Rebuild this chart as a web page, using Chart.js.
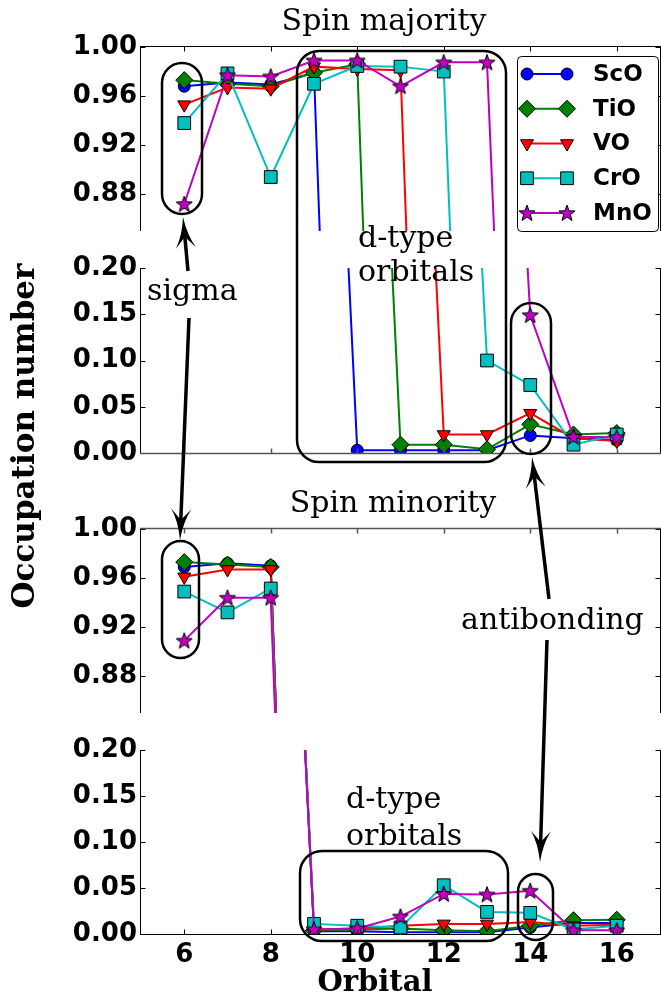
<!DOCTYPE html>
<html><head><meta charset="utf-8">
<script src="https://cdn.jsdelivr.net/npm/chart.js@4.4.0/dist/chart.umd.min.js"></script>
<style>
html,body{margin:0;padding:0;background:#fff;overflow:hidden;width:661px;height:996px;}
canvas{position:absolute;left:0;}
</style></head><body>
<canvas id="c1" width="670" height="220" style="top:30px"></canvas>
<canvas id="c2" width="670" height="216" style="top:252px"></canvas>
<canvas id="c3" width="670" height="214" style="top:515px"></canvas>
<canvas id="c4" width="670" height="265" style="top:731px"></canvas>
<canvas id="ov" width="661" height="996" style="top:0;z-index:10;pointer-events:none"></canvas>
<script>
// ---------------- DATA ----------------
const orbitals = [6, 7, 8, 9, 10, 11, 12, 13, 14, 15, 16];
const seriesNames = ['ScO', 'TiO', 'VO', 'CrO', 'MnO'];

// Spin majority occupation numbers
const majScO = [0.968, 0.971, 0.9695, 0.979, 0.003, 0.003, 0.003, 0.003, 0.019, 0.016, 0.014];
const majTiO = [0.973, 0.970, 0.968, 0.979, 0.986, 0.009, 0.009, 0.004, 0.031, 0.020, 0.0215];
const majVO  = [0.953, 0.967, 0.966, 0.984, 0.982, 0.981, 0.020, 0.020, 0.043, 0.016, 0.013];
const majCrO = [0.938, 0.9785, 0.894, 0.970, 0.9845, 0.984, 0.980, 0.100, 0.0735, 0.009, 0.020];
const majMnO = [0.872, 0.977, 0.976, 0.989, 0.989, 0.968, 0.9875, 0.9875, 0.149, 0.0175, 0.017];

// Spin minority occupation numbers
const minScO = [0.969, 0.972, 0.970, 0.003, 0.003, 0.002, 0.002, 0.002, 0.007, 0.012, 0.012];
const minTiO = [0.973, 0.971, 0.969, 0.004, 0.005, 0.006, 0.004, 0.003, 0.009, 0.015, 0.0155];
const minVO  = [0.961, 0.967, 0.967, 0.005, 0.006, 0.009, 0.011, 0.011, 0.013, 0.009, 0.010];
const minCrO = [0.949, 0.932, 0.9515, 0.011, 0.009, 0.007, 0.053, 0.024, 0.023, 0.005, 0.009];
const minMnO = [0.909, 0.944, 0.944, 0.005, 0.006, 0.019, 0.0435, 0.043, 0.047, 0.004, 0.004];

// Tick values / labels
const xTickValues = [6, 8, 10, 12, 14, 16];
const xTickLabels = ['6', '8', '10', '12', '14', '16'];
const yHighTickValues = [0.88, 0.92, 0.96, 1.00];
const yHighTickLabels = ['0.88', '0.92', '0.96', '1.00'];
const yLowTickValues = [0.00, 0.05, 0.10, 0.15, 0.20];
const yLowTickLabels = ['0.00', '0.05', '0.10', '0.15', '0.20'];

// ---------------- STYLE ----------------
const colors = ['#0000ff', '#008000', '#ff0000', '#00bfbf', '#bf00bf'];
function makeStar(fill) {
  const c = document.createElement('canvas');
  c.width = 20; c.height = 20;
  const g = c.getContext('2d');
  g.beginPath();
  for (let i = 0; i < 10; i++) {
    const r = i % 2 ? 3.5 : 8.5;
    const a = -Math.PI / 2 + i * Math.PI / 5;
    g.lineTo(10 + r * Math.cos(a), 10.6 + r * Math.sin(a));
  }
  g.closePath();
  g.fillStyle = fill; g.fill();
  g.lineWidth = 1; g.strokeStyle = '#000'; g.stroke();
  return c;
}
const starImg = makeStar(colors[4]);
const pStyles = ['circle', 'rectRot', 'triangle', 'rect', starImg];
const pRadii = [6, 8.5, 7.5, 9, 8];
const pRot = [0, 0, 180, 0, 0];

Chart.defaults.font.family = 'DejaVu Sans';
Chart.defaults.color = '#000';

function makeDatasets(arrs) {
  return seriesNames.map((n, i) => ({
    label: n,
    data: orbitals.map((x, j) => ({ x: x, y: arrs[i][j] })),
    borderColor: colors[i],
    backgroundColor: colors[i],
    pointBackgroundColor: colors[i],
    pointBorderColor: '#000',
    pointBorderWidth: 1,
    borderWidth: 2,
    pointStyle: pStyles[i],
    pointRadius: pRadii[i],
    pointRotation: pRot[i],
    tension: 0,
    order: 5 - i,
    clip: 0
  }));
}

const panels = [
  { id: 'c1', top: 30, padTop: 17, padBottom: 19, min: 0.85, max: 1.0, tv: yHighTickValues, tl: yHighTickLabels,
    data: [majScO, majTiO, majVO, majCrO, majMnO], topSpine: '#000', bottomSpine: null, showX: false, legend: true },
  { id: 'c2', top: 252, padTop: 16, padBottom: 15, min: 0.0, max: 0.2, tv: yLowTickValues, tl: yLowTickLabels,
    data: [majScO, majTiO, majVO, majCrO, majMnO], topSpine: null, bottomSpine: '#555', showX: false },
  { id: 'c3', top: 515, padTop: 14, padBottom: 16, min: 0.85, max: 1.0, tv: yHighTickValues, tl: yHighTickLabels,
    data: [minScO, minTiO, minVO, minCrO, minMnO], topSpine: '#555', bottomSpine: null, showX: false },
  { id: 'c4', top: 731, padTop: 19, padBottom: 0, xHeight: 62, min: 0.0, max: 0.2, tv: yLowTickValues, tl: yLowTickLabels,
    data: [minScO, minTiO, minVO, minCrO, minMnO], topSpine: null, bottomSpine: '#000', showX: true }
];

function drawMarker(ctx, i, x, y) {
  const r = pRadii[i];
  ctx.save();
  ctx.fillStyle = colors[i]; ctx.strokeStyle = '#000'; ctx.lineWidth = 1;
  ctx.beginPath();
  if (i === 0) { ctx.arc(x, y, r, 0, Math.PI * 2); }
  else if (i === 1) { ctx.moveTo(x - r, y); ctx.lineTo(x, y - r); ctx.lineTo(x + r, y); ctx.lineTo(x, y + r); ctx.closePath(); }
  else if (i === 2) { ctx.moveTo(x, y + r); ctx.lineTo(x - r * 0.866, y - r * 0.5); ctx.lineTo(x + r * 0.866, y - r * 0.5); ctx.closePath(); }
  else if (i === 3) { const s = r * Math.SQRT1_2; ctx.rect(x - s, y - s, 2 * s, 2 * s); }
  else { ctx.drawImage(starImg, x - 10, y - 10); ctx.restore(); return; }
  ctx.fill(); ctx.stroke();
  ctx.restore();
}

function rrect(ctx, x, y, w, h, r) {
  r = Math.min(r, w / 2, h / 2);
  ctx.beginPath();
  ctx.moveTo(x + r, y);
  ctx.lineTo(x + w - r, y); ctx.arcTo(x + w, y, x + w, y + r, r);
  ctx.lineTo(x + w, y + h - r); ctx.arcTo(x + w, y + h, x + w - r, y + h, r);
  ctx.lineTo(x + r, y + h); ctx.arcTo(x, y + h, x, y + h - r, r);
  ctx.lineTo(x, y + r); ctx.arcTo(x, y, x + r, y, r);
  ctx.closePath();
}

function axesPlugin(p) {
  return {
    id: 'mplaxes_' + p.id,
    afterDatasetsDraw(chart) {
      const ctx = chart.ctx, a = chart.chartArea, xs = chart.scales.x, ys = chart.scales.y;
      ctx.save();
      ctx.lineWidth = 1; ctx.strokeStyle = '#000';
      const L = Math.round(a.left) - 0.5, R = Math.round(a.right) + 0.5;
      const T = Math.round(a.top) - 0.5, B = Math.round(a.bottom) + 0.5;
      ctx.beginPath();
      ctx.moveTo(L, a.top); ctx.lineTo(L, a.bottom);
      ctx.moveTo(R, a.top); ctx.lineTo(R, a.bottom);
      p.tv.forEach(v => {
        const py = Math.round(ys.getPixelForValue(v)) + 0.5;
        ctx.moveTo(L, py); ctx.lineTo(L + 5, py);
        ctx.moveTo(R, py); ctx.lineTo(R - 5, py);
      });
      ctx.stroke();
      const hs = (yy, col, dir) => {
        ctx.beginPath(); ctx.strokeStyle = col; ctx.lineWidth = col === '#000' ? 1 : 1.5;
        ctx.moveTo(L - 0.5, yy); ctx.lineTo(R + 0.5, yy);
        xTickValues.forEach(v => {
          const px = Math.round(xs.getPixelForValue(v)) + 0.5;
          ctx.moveTo(px, yy); ctx.lineTo(px, yy + dir * 5);
        });
        ctx.stroke();
      };
      if (p.topSpine) hs(T, p.topSpine, 1);
      if (p.bottomSpine) hs(B, p.bottomSpine, -1);
      if (p.legend) {
        const off = p.top;
        ctx.fillStyle = '#fff'; ctx.strokeStyle = '#000'; ctx.lineWidth = 1;
        rrect(ctx, 517.5, 56.5 - off, 141, 175, 4); ctx.fill(); ctx.stroke();
        chart.data.datasets.forEach((ds, i) => {
          const yy = 74 + i * 34.75 - off;
          ctx.strokeStyle = ds.borderColor; ctx.lineWidth = 2;
          ctx.beginPath(); ctx.moveTo(527, yy); ctx.lineTo(567, yy); ctx.stroke();
          drawMarker(ctx, i, 527, yy);
          drawMarker(ctx, i, 567, yy);
          ctx.fillStyle = '#000'; ctx.font = 'bold 23px "DejaVu Sans"';
          ctx.textAlign = 'left'; ctx.textBaseline = 'middle';
          ctx.fillText(ds.label, 593, yy + 1);
        });
      }
      ctx.restore();
    }
  };
}

function zeroPad(s) { s.paddingTop = 0; s.paddingBottom = 0; s.paddingLeft = 0; s.paddingRight = 0; }

const charts = panels.map(p => new Chart(document.getElementById(p.id), {
  type: 'line',
  data: { datasets: makeDatasets(p.data) },
  options: {
    responsive: false, animation: false, devicePixelRatio: 1, events: [],
    layout: { padding: { left: 0, right: 7, top: p.padTop, bottom: p.padBottom } },
    plugins: { legend: { display: false }, tooltip: { enabled: false }, title: { display: false } },
    scales: {
      x: {
        type: 'linear', min: 5, max: 17, display: p.showX,
        grid: { display: false, drawTicks: false }, border: { display: false },
        afterBuildTicks: s => { s.ticks = xTickValues.map(v => ({ value: v })); },
        ticks: { font: { size: 26, weight: 'bold' }, color: '#000', padding: 6, maxRotation: 0, autoSkip: false,
          callback: (v, i) => xTickLabels[i] },
        afterFit: s => { zeroPad(s); if (p.showX) s.height = p.xHeight; }
      },
      y: {
        type: 'linear', min: p.min, max: p.max,
        grid: { display: false, drawTicks: false }, border: { display: false },
        afterBuildTicks: s => { s.ticks = p.tv.map(v => ({ value: v })); },
        ticks: { font: { size: 26, weight: 'bold' }, color: '#000', padding: 4, autoSkip: false,
          callback: (v, i) => p.tl[i] },
        afterFit: s => { zeroPad(s); s.width = 141; }
      }
    }
  },
  plugins: [axesPlugin(p)]
}));

// ---------------- ANNOTATIONS (overlay) ----------------
const ov = document.getElementById('ov');
const g = ov.getContext('2d');
g.strokeStyle = '#000'; g.fillStyle = '#000';
g.lineWidth = 2.5;
[[162, 63, 40, 151, 20], [297, 51, 209, 411, 22], [511, 303, 40, 151, 20],
 [162, 541, 37, 117, 18.5], [300, 851, 208, 90, 22], [518, 874, 35, 66, 17.5]].forEach(b => {
  rrect(g, b[0], b[1], b[2], b[3], b[4]); g.stroke();
});

function arrow(x1, y1, x2, y2) {
  const dx = x2 - x1, dy = y2 - y1, len = Math.hypot(dx, dy);
  const ux = dx / len, uy = dy / len, nx = -uy, ny = ux;
  const Lh = 31, W = 10, N = 20;
  g.lineWidth = 3.5;
  g.beginPath(); g.moveTo(x1, y1); g.lineTo(x2 - ux * N, y2 - uy * N); g.stroke();
  g.beginPath();
  g.moveTo(x2, y2);
  g.quadraticCurveTo(x2 - ux * Lh * 0.6 + nx * W * 0.25, y2 - uy * Lh * 0.6 + ny * W * 0.25, x2 - ux * Lh + nx * W, y2 - uy * Lh + ny * W);
  g.lineTo(x2 - ux * N, y2 - uy * N);
  g.lineTo(x2 - ux * Lh - nx * W, y2 - uy * Lh - ny * W);
  g.quadraticCurveTo(x2 - ux * Lh * 0.6 - nx * W * 0.25, y2 - uy * Lh * 0.6 - ny * W * 0.25, x2, y2);
  g.closePath(); g.fill();
}
arrow(188, 271, 183, 217);
arrow(189, 318, 180, 540);
arrow(549, 599, 532, 457);
arrow(547, 640, 540, 862);

g.textBaseline = 'alphabetic';
g.font = '30px "DejaVu Serif"';
g.textAlign = 'center';
g.fillText('Spin majority', 384, 30);
g.fillText('Spin minority', 393, 512);
g.textAlign = 'left';
g.fillText('sigma', 147, 300);
g.fillText('d-type', 358, 247);
g.fillText('orbitals', 358, 281);
g.fillText('d-type', 346, 808);
g.fillText('orbitals', 346, 845);
g.fillText('antibonding', 461, 629);
g.font = 'bold 29px "DejaVu Serif"';
g.textAlign = 'center';
g.fillText('Orbital', 375, 991);
g.save();
g.translate(34, 436);
g.rotate(-Math.PI / 2);
g.font = 'bold 31px "DejaVu Serif"';
g.fillText('Occupation number', 0, 0);
g.restore();
</script>
</body></html>
